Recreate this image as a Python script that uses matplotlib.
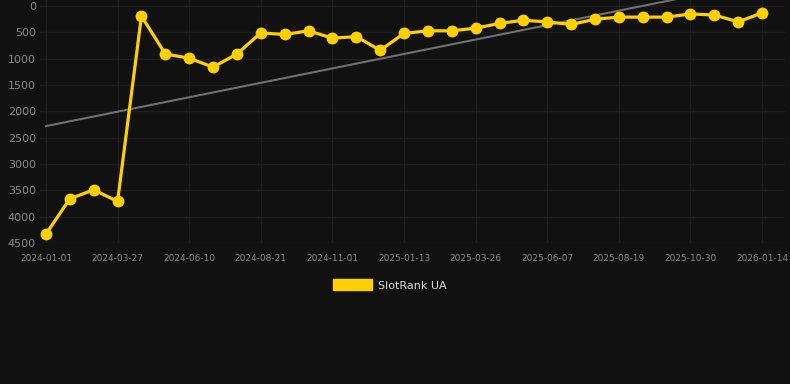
import numpy as np
import matplotlib.pyplot as plt

dates = ['2024-01-01', '2024-03-27', '2024-06-10', '2024-08-21', '2024-11-01',
         '2025-01-13', '2025-03-26', '2025-06-07', '2025-08-19', '2025-10-30',
         '2026-01-14']
ranks = [4330, 3660, 3490, 3710, 190, 910, 990, 1160, 910, 510,
         540, 470, 610, 580, 840, 520, 470, 470, 420, 330,
         270, 300, 350, 250, 210, 210, 210, 150, 170, 300, 130]
trend_start = 2280
trend_end = -460

bg = '#111111'
fig = plt.figure(figsize=(7.9, 3.84), dpi=100, facecolor=bg)
ax = fig.add_axes([40 / 790, 1 - 243 / 384, 745 / 790, 243 / 384])
ax.set_facecolor(bg)

xs = np.arange(len(ranks))
ax.plot([xs[0], xs[-1]], [trend_start, trend_end],
        color='#707070', lw=1.5, zorder=2)
ax.plot(xs, ranks, color='#FFD000', lw=2.3, marker='o', ms=7.5,
        zorder=3, label='SlotRank UA')

ax.set_xlim(-0.25, 30.96)
ax.set_ylim(4500, -115)
ax.set_yticks(np.arange(0, 4501, 500))
ax.set_xticks(xs[::3])
ax.set_xticklabels(dates)
ax.grid(color='#1e1e1e', lw=1)
ax.set_axisbelow(True)
for s in ax.spines.values():
    s.set_visible(False)
ax.tick_params(axis='y', colors='#8a8a8a', labelsize=8, length=0, pad=3)
ax.tick_params(axis='x', colors='#8a8a8a', labelsize=6.5, length=0, pad=8)

h = plt.Rectangle((0, 0), 1, 1, color='#FFD000')
leg = fig.legend([h], ['SlotRank UA'], loc='center', bbox_to_anchor=(390 / 790, 1 - 285 / 384),
                 frameon=False, fontsize=8, handlelength=3.5, handleheight=1.1,
                 handletextpad=0.5)
for t in leg.get_texts():
    t.set_color('#dddddd')

fig.savefig('out.png', dpi=100, facecolor=bg)
